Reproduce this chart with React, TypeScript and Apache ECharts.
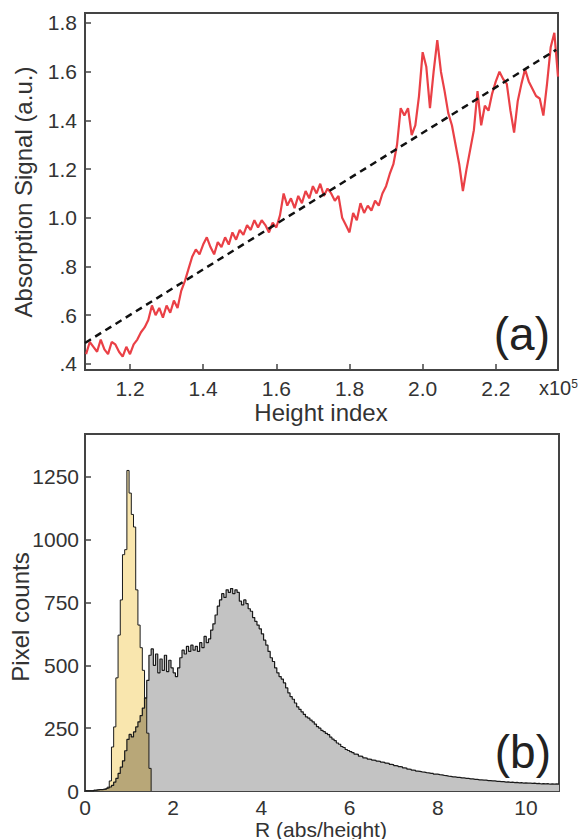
import React, { useEffect, useRef } from 'react';
import * as echarts from 'echarts';

// ---------- panel (a): absorption signal vs height index (x10^5) ----------
const SIGNAL_X0 = 1.08;
const SIGNAL_DX = 0.01;
const signalValues = [
  0.44, 0.49, 0.47, 0.45, 0.50, 0.46, 0.44, 0.49, 0.48, 0.45, 0.43, 0.47, 0.44,
  0.48, 0.50, 0.53, 0.55, 0.58, 0.64, 0.60, 0.63, 0.59, 0.64,
  0.61, 0.66, 0.63, 0.70, 0.74, 0.79, 0.84, 0.87, 0.85, 0.89,
  0.92, 0.88, 0.85, 0.90, 0.88, 0.92, 0.89, 0.94, 0.91, 0.95,
  0.93, 0.97, 0.95, 0.99, 0.96, 0.99, 0.97, 0.94, 0.98, 0.96,
  1.01, 1.10, 1.05, 1.08, 1.04, 1.09, 1.06, 1.11, 1.08, 1.13,
  1.10, 1.14, 1.09, 1.12, 1.10, 1.07, 1.09, 1.00, 0.97, 0.94,
  1.02, 0.99, 1.06, 1.02, 1.05, 1.03, 1.07, 1.05, 1.10, 1.13,
  1.18, 1.22, 1.30, 1.45, 1.42, 1.45, 1.34, 1.38, 1.50, 1.68,
  1.62, 1.45, 1.60, 1.73, 1.60, 1.52, 1.43, 1.38, 1.30, 1.22,
  1.11, 1.20, 1.28, 1.36, 1.52, 1.38, 1.46, 1.44, 1.51, 1.56,
  1.60, 1.57, 1.55, 1.44, 1.35, 1.48, 1.55, 1.61, 1.56, 1.53,
  1.50, 1.49, 1.42, 1.55, 1.70, 1.76, 1.58,
];
const fitX = [1.077, 2.365];
const fitY = [0.486, 1.69];
const topXTicks = [1.2, 1.4, 1.6, 1.8, 2.0, 2.2];
const topYTicks = [0.4, 0.6, 0.8, 1.0, 1.2, 1.4, 1.6, 1.8];

// ---------- panel (b): histograms of R ----------
const BIN_WIDTH = 0.05;
const grayCounts = [
  0, 0, 0, 0, 3, 5, 6, 6, 8, 10,
  12, 16, 22, 35, 50, 70, 95, 120, 160, 205,
  225, 215, 235, 255, 275, 300, 330, 370, 440, 540,
  565, 500, 545, 470, 525, 480, 540, 475, 520, 490,
  470, 455, 490, 530, 560, 545, 575, 555, 580, 560,
  575, 555, 590, 570, 615, 590, 605, 640, 665, 700,
  735, 760, 785, 770, 800, 790, 805, 785, 800, 790,
  755, 740, 760, 745, 725, 715, 690, 675, 660, 645,
  625, 600, 580, 555, 530, 515, 490, 470, 455, 445,
  430, 410, 390, 375, 365, 350, 335, 325, 315, 305,
  295, 290, 282, 275, 266, 256, 250, 241, 236, 229,
  224, 214, 206, 200, 191, 186, 177, 173, 165, 161,
  157, 153, 147, 146, 139, 138, 132, 131, 127, 126,
  123, 122, 119, 118, 115, 114, 111, 110, 106, 105,
  101, 100, 97, 96, 92, 91, 87, 86, 83, 82,
  79, 78, 76, 75, 73, 72, 70, 70, 67, 67,
  65, 64, 62, 61, 59, 58, 56, 56, 54, 54,
  52, 52, 50, 50, 48, 48, 46, 46, 44, 44,
  43, 43, 41, 41, 40, 40, 38, 38, 37, 37,
  35, 36, 34, 35, 33, 34, 32, 33, 31, 32,
  31, 31, 30, 31, 29, 30, 28, 29, 28, 29,
  27, 28, 27, 28, 27, 27,
];
const yellowCounts = [
  0, 0, 0, 0, 3, 4, 5, 5, 6, 8,
  15, 40, 175, 255, 450, 620, 760, 940, 960, 1275,
  1185, 1100, 1050, 800, 660, 570, 480, 370, 230, 90,
  0,
];
const bottomXTicks = [0, 2, 4, 6, 8, 10];
const bottomYTicks = [0, 250, 500, 750, 1000, 1250];

const FONT = '"Liberation Sans", Arial, Helvetica, sans-serif';
const TEXT = '#333';
const AXIS = '#444';

export default function App() {
  const ref = useRef<HTMLDivElement>(null);

  useEffect(() => {
    document.body.style.margin = '0';
    if (!ref.current) return;
    const chart = echarts.init(ref.current, undefined, { renderer: 'svg' });

    const signalData = signalValues.map((v, i) => [SIGNAL_X0 + i * SIGNAL_DX, v]);
    const fitData = fitX.map((x, i) => [x, fitY[i]]);
    const grayData = grayCounts.map((v, i) => [i * BIN_WIDTH, v]);
    const yellowData = yellowCounts.map((v, i) => [i * BIN_WIDTH, v]);
    const overlapData = yellowCounts.map((v, i) => [i * BIN_WIDTH, Math.min(v, grayCounts[i])]);

    const tick = (vals: number[]) => ({
      show: true,
      inside: true,
      length: 6,
      lineStyle: { color: AXIS, width: 1.5 },
      customValues: vals,
    });
    const label = (vals: number[], fmt: (v: number) => string, margin: number) => ({
      customValues: vals,
      formatter: fmt,
      fontSize: 21,
      color: TEXT,
      fontFamily: FONT,
      margin,
    });
    const stepSeries = (data: number[][], opts: any) => ({
      type: 'line',
      xAxisIndex: 1,
      yAxisIndex: 1,
      data,
      step: 'end',
      showSymbol: false,
      silent: true,
      ...opts,
    });
    const axisName = (text: string, x: number, y: number, size: number, vertical: boolean) => ({
      type: 'text',
      x,
      y,
      rotation: vertical ? Math.PI / 2 : 0,
      silent: true,
      style: { text, fontSize: size, fill: TEXT, fontFamily: FONT, align: 'center', verticalAlign: 'middle' },
    });

    chart.setOption({
      animation: false,
      backgroundColor: '#fff',
      grid: [
        { left: 85, right: 28, top: 13, height: 357, show: true, borderColor: AXIS, borderWidth: 2, containLabel: false, outerBoundsMode: 'none' },
        { left: 85, right: 27, top: 434, height: 357, show: true, borderColor: AXIS, borderWidth: 2, containLabel: false, outerBoundsMode: 'none' },
      ],
      xAxis: [
        {
          type: 'value', gridIndex: 0, min: 1.077, max: 2.37,
          axisLine: { show: false }, splitLine: { show: false },
          axisTick: tick(topXTicks),
          axisLabel: label(topXTicks, (v: number) => v.toFixed(1), 8),
        },
        {
          type: 'value', gridIndex: 1, min: 0, max: 10.75,
          axisLine: { show: false }, splitLine: { show: false },
          axisTick: tick(bottomXTicks),
          axisLabel: label(bottomXTicks, (v: number) => String(v), 6),
        },
      ],
      yAxis: [
        {
          type: 'value', gridIndex: 0, min: 0.375, max: 1.841,
          axisLine: { show: false }, splitLine: { show: false },
          axisTick: tick(topYTicks),
          axisLabel: label(topYTicks, (v: number) => (v < 1 ? '.' + Math.round(v * 10) : v.toFixed(1)), 8),
        },
        {
          type: 'value', gridIndex: 1, min: 0, max: 1420,
          axisLine: { show: false }, splitLine: { show: false },
          axisTick: tick(bottomYTicks),
          axisLabel: label(bottomYTicks, (v: number) => String(v), 6),
        },
      ],
      series: [
        {
          type: 'line', xAxisIndex: 0, yAxisIndex: 0, data: signalData,
          showSymbol: false, silent: true, z: 2,
          lineStyle: { color: '#ea4046', width: 2.2 },
        },
        {
          type: 'line', xAxisIndex: 0, yAxisIndex: 0, data: fitData,
          showSymbol: false, silent: true, z: 3,
          lineStyle: { color: '#111', width: 2.5, type: [7, 5] },
        },
        stepSeries(grayData, { z: 2, lineStyle: { width: 0 }, areaStyle: { color: '#c3c3c3', opacity: 1 } }),
        stepSeries(yellowData, { z: 3, lineStyle: { width: 0 }, areaStyle: { color: '#f9e6ae', opacity: 1 } }),
        stepSeries(overlapData, { z: 4, lineStyle: { width: 0 }, areaStyle: { color: '#b8a778', opacity: 1 } }),
        stepSeries(yellowData, { z: 5, lineStyle: { color: '#1a1a1a', width: 1 } }),
        stepSeries(grayData, { z: 6, lineStyle: { color: '#1a1a1a', width: 1.2 } }),
      ],
      graphic: [
        axisName('Absorption Signal (a.u.)', 23, 192, 24, true),
        axisName('Height index', 321, 412, 24, false),
        axisName('Pixel counts', 20, 617, 24, true),
        axisName('R (abs/height)', 321, 829, 21, false),
        { type: 'text', right: 36, top: 311, style: { text: '(a)', fontSize: 46, fill: '#222', fontFamily: FONT } },
        { type: 'text', right: 35, top: 729, style: { text: '(b)', fontSize: 46, fill: '#222', fontFamily: FONT } },
        {
          type: 'text', left: 539, top: 378,
          style: {
            text: '{a|x10}{b|5}',
            fontFamily: FONT,
            rich: {
              a: { fontSize: 20, fill: TEXT, fontFamily: FONT },
              b: { fontSize: 12, fill: TEXT, fontFamily: FONT, verticalAlign: 'top' },
            },
          },
        },
      ],
    });

    return () => chart.dispose();
  }, []);

  return <div ref={ref} style={{ width: 586, height: 839 }} />;
}
